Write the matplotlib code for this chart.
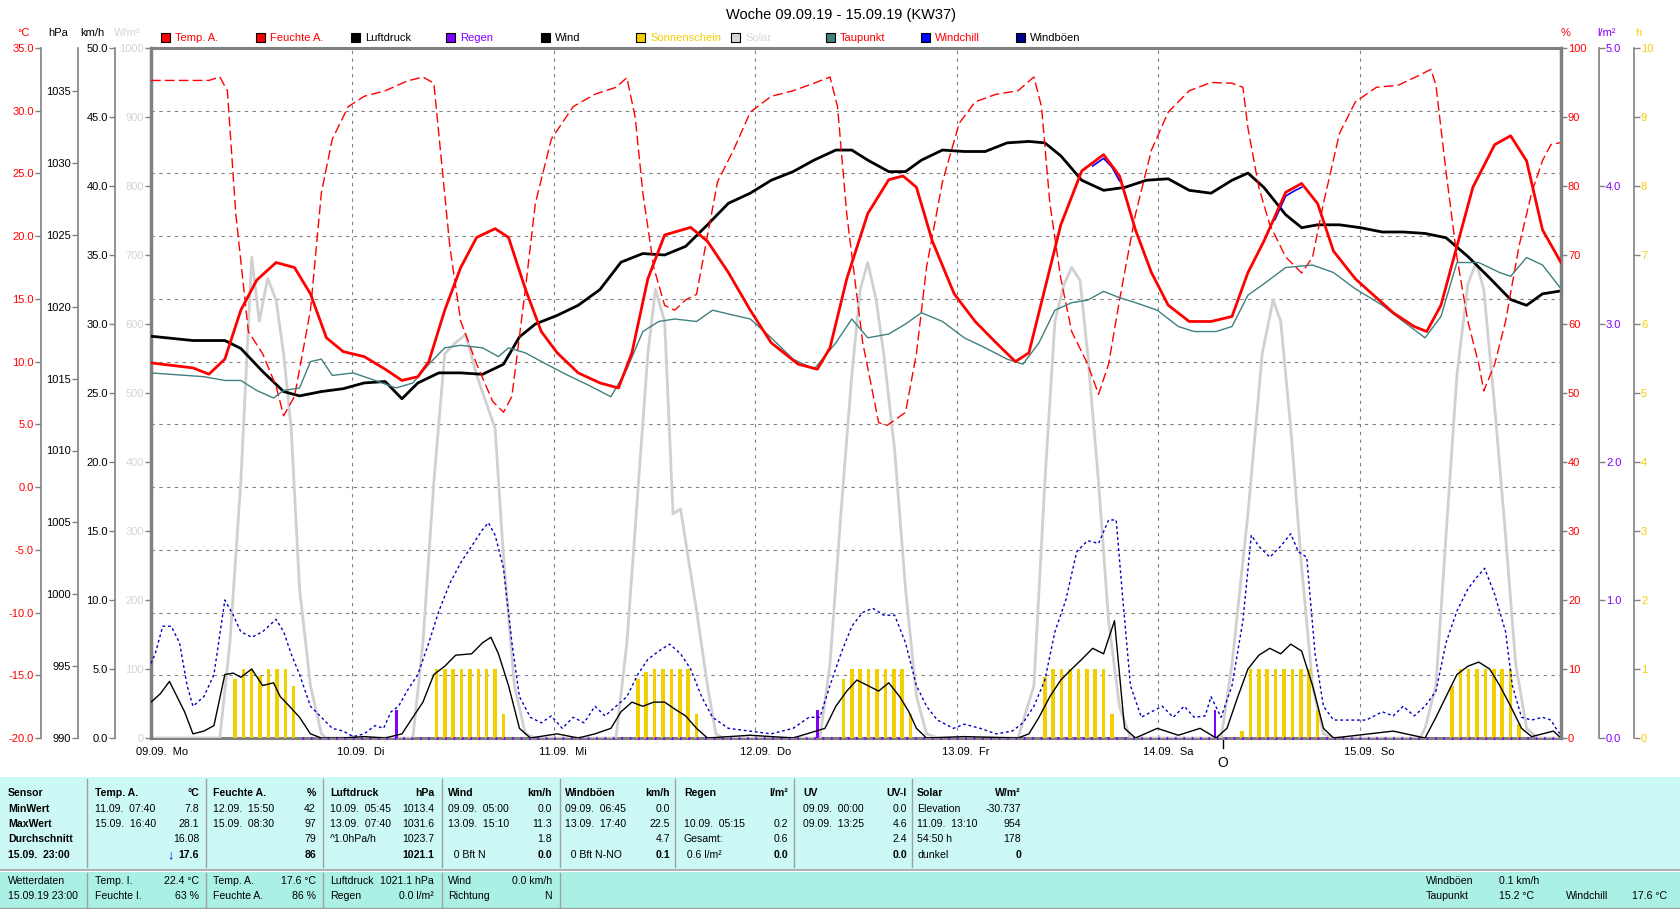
import matplotlib
matplotlib.use("Agg")
import matplotlib.pyplot as plt
from matplotlib.patches import Rectangle

plt.rcParams['font.family'] = ['Liberation Sans', 'DejaVu Sans']

# ---- data (x = hours since 09.09. 00:00) ----
day_hours = [0, 24, 48, 72, 96, 120, 144, 168]
day_labels = ['09.09.  Mo', '10.09.  Di', '11.09.  Mi', '12.09.  Do', '13.09.  Fr', '14.09.  Sa', '15.09.  So']

temp_h = [0, 5, 6.9, 8.8, 10.7, 12.6, 14.9, 17.1, 19.0, 20.9, 22.9, 25.4, 27.9, 29.9, 31.8, 33.1, 35.0, 36.9, 38.8, 41.0,
          42.6, 44.6, 46.5, 48.4, 50.9, 53.5, 55.7, 57.3, 59.2, 61.2, 64.3, 66.3, 68.8, 71.4, 73.9, 77.1, 79.4, 80.9, 82.9, 85.4,
          87.9, 89.6, 91.2, 93.1, 95.7, 98.2, 100.7, 103.0, 104.6, 106.5, 108.4, 110.9, 113.5, 115.4, 117.3, 119.2, 121.2, 123.7, 126.3, 128.8,
          130.7, 132.6, 135.2, 137.1, 139.0, 140.9, 143.5, 146.0, 148.0, 150.5, 152.0, 153.7, 155.6, 157.5, 160.1, 162.0, 163.9, 165.8, 168]
temp_v = [9.9, 9.5, 9.0, 10.2, 14.1, 16.5, 17.9, 17.5, 15.4, 11.9, 10.8, 10.4, 9.4, 8.5, 8.8, 10.0, 14.1, 17.5, 19.9, 20.6,
          19.9, 15.8, 12.4, 10.7, 9.1, 8.3, 7.9, 10.7, 16.6, 20.1, 20.7, 19.6, 17.1, 14.1, 11.5, 9.8, 9.4, 11.1, 16.6, 21.8,
          24.5, 24.8, 23.9, 19.6, 15.4, 13.2, 11.5, 10.0, 10.7, 15.8, 20.9, 25.2, 26.5, 24.8, 20.5, 17.1, 14.5, 13.2, 13.2, 13.6,
          17.1, 19.6, 23.5, 24.2, 22.6, 18.8, 16.6, 15.1, 13.9, 12.8, 12.4, 14.5, 19.2, 23.9, 27.3, 28.0, 26.0, 20.5, 17.9]

hum_h = [0, 6.9, 8.2, 9.1, 10.1, 11.6, 13.3, 14.9, 15.8, 17.1, 19.0, 20.3, 21.6, 23.5, 25.4, 27.9, 30.5, 32.4, 33.7, 34.6,
         35.6, 36.9, 38.8, 40.7, 42.0, 43.0, 44.6, 45.8, 47.7, 50.3, 52.9, 55.4, 56.7, 57.7, 58.6, 59.9, 61.2, 62.4, 63.7, 65.0,
         66.3, 67.5, 69.4, 71.4, 73.9, 76.5, 79.0, 80.9, 81.8, 82.9, 84.8, 86.7, 87.7, 89.9, 91.2, 92.4, 94.3, 96.3, 98.2, 100.7,
         103.3, 105.2, 106.1, 107.1, 108.4, 109.7, 111.6, 112.9, 114.1, 115.4, 117.3, 119.2, 121.2, 123.7, 126.3, 128.8, 130.1, 130.7, 132.0, 133.3,
         135.2, 137.1, 138.4, 139.7, 141.6, 143.5, 146.0, 148.6, 151.2, 152.5, 153.1, 154.3, 155.6, 156.9, 158.2, 158.8, 160.1, 161.4, 163.0, 164.5,
         165.8, 166.8, 168]
hum_v = [95.3, 95.3, 95.8, 93.8, 76, 58.9, 55.7, 51, 46.7, 49.5, 62, 79, 86.8, 91.5, 93, 93.8, 95.2, 95.8, 94.9, 83.7,
         71.3, 60.4, 54.2, 48.8, 47.2, 49.5, 65, 77.5, 86.8, 91.5, 93.3, 94.3, 95.7, 89.9, 79, 68.2, 62.7, 62, 63.5, 64.3,
         72.8, 80.6, 85.2, 90.7, 93, 93.8, 94.9, 95.8, 91.5, 75.9, 57.3, 45.7, 45.3, 47.2, 55.7, 68.2, 80.6, 89.1, 92.2, 93.3,
         93.8, 95.8, 91.5, 77.5, 66.6, 58.9, 54.2, 49.8, 54.2, 63.5, 75.9, 85.2, 90.7, 93.8, 95, 94.9, 94.3, 88.4, 79.8, 74.4,
         69.7, 67.4, 69.7, 77.5, 87.6, 92.2, 94.3, 94.6, 96.1, 96.9, 94.6, 82.1, 69.7, 60.4, 54.2, 50.3, 54.2, 60.4, 71.3, 79,
         83.7, 86, 86.3]

press_h = [0, 5.0, 8.8, 10.7, 13.3, 15.8, 17.7, 20.3, 22.9, 25.4, 27.9, 29.9, 31.8, 34.3, 36.9, 39.5, 42.0, 43.9, 45.8, 48.4,
           50.9, 53.5, 56.0, 58.6, 61.2, 63.7, 66.3, 68.8, 71.4, 73.9, 76.5, 79.0, 81.6, 83.5, 85.4, 87.9, 89.9, 91.8, 94.3, 96.9,
           99.4, 102.0, 104.6, 106.5, 108.4, 110.9, 113.5, 116.0, 118.6, 121.2, 123.7, 126.3, 128.8, 130.7, 132.6, 135.2, 137.1, 139.0, 141.6, 144.1,
           146.7, 149.2, 151.8, 154.3, 156.9, 159.5, 162.0, 163.9, 165.8, 168]
press_v = [1017.95, 1017.65, 1017.65, 1017.1, 1015.5, 1014.1, 1013.8, 1014.1, 1014.3, 1014.7, 1014.8, 1013.6, 1014.7, 1015.4, 1015.4, 1015.3, 1016, 1017.9, 1018.8, 1019.4,
           1020.1, 1021.2, 1023.1, 1023.7, 1023.6, 1024.2, 1025.7, 1027.2, 1027.9, 1028.8, 1029.4, 1030.2, 1030.9, 1030.9, 1030.2, 1029.4, 1029.4, 1030.2, 1030.9, 1030.8,
           1030.8, 1031.4, 1031.5, 1031.4, 1030.5, 1028.8, 1028.1, 1028.3, 1028.8, 1028.9, 1028.1, 1027.9, 1028.8, 1029.3, 1028.3, 1026.4, 1025.5, 1025.7, 1025.7, 1025.5,
           1025.2, 1025.2, 1025.1, 1024.8, 1023.5, 1022.0, 1020.5, 1020.1, 1020.9, 1021.1]

dew_h = [0, 6.3, 8.8, 10.7, 12.6, 14.6, 15.8, 17.7, 19.0, 20.3, 21.6, 24.1, 26.7, 29.2, 31.2, 33.1, 35.0, 36.9, 39.5, 41.4,
         42.6, 44.6, 47.1, 49.7, 52.2, 54.8, 56.7, 58.6, 60.5, 62.4, 65.0, 66.9, 68.8, 71.4, 73.9, 76.5, 79.0, 81.6, 83.5, 85.4,
         87.9, 89.9, 91.8, 94.3, 96.9, 99.4, 102.0, 103.9, 105.8, 107.7, 109.7, 111.6, 113.5, 115.4, 117.3, 119.9, 122.4, 124.3, 126.9, 128.8,
         130.7, 132.6, 135.2, 138.4, 140.9, 143.5, 146.7, 149.2, 151.8, 153.7, 155.6, 158.2, 160.7, 162.0, 163.9, 165.8, 168]
dew_v = [9.1, 8.8, 8.5, 8.5, 7.7, 7.1, 7.7, 7.9, 10.0, 10.2, 8.9, 9.1, 8.5, 7.9, 8.3, 9.8, 11.1, 11.3, 11.1, 10.4,
         11.1, 10.7, 9.8, 8.9, 8.1, 7.2, 9.4, 12.4, 13.2, 13.4, 13.2, 14.1, 13.8, 13.4, 11.9, 10.2, 9.4, 11.5, 13.4, 11.9,
         12.2, 13.0, 13.9, 13.2, 11.9, 11.1, 10.2, 9.8, 11.5, 14.1, 14.7, 14.9, 15.6, 15.1, 14.7, 14.1, 12.8, 12.4, 12.4, 12.8,
         15.3, 16.2, 17.5, 17.7, 17.1, 15.8, 14.5, 13.2, 11.9, 13.6, 17.9, 17.9, 17.1, 16.8, 18.3, 17.7, 15.8]

# windchill only peeks out from under the temperature line on two afternoons
chill_h = [112.2, 113.5, 114.5, 115.4, float('nan'), 133.9, 135.2, 136.2, 137.1]
chill_v = [25.6, 26.2, 25.5, 24.4, float('nan'), 21.3, 23.2, 23.6, 23.9]

solar_h = [0, 8.2, 9.4, 10.7, 12.0, 12.9, 13.9, 14.9, 15.8, 16.7, 17.7, 19.0, 20.3, 20.9,
           31.2, 32.4, 33.7, 35.0, 36.3, 37.5, 38.8, 40.1, 41.0, 42.0, 43.3, 44.6, 45.8,
           55.4, 56.7, 58.0, 59.2, 60.1, 61.2, 62.2, 63.1, 64.0, 65.0, 66.3, 67.3, 68.2,
           79.7, 80.9, 82.2, 83.5, 84.5, 85.4, 86.4, 87.3, 88.6, 89.9, 91.2, 92.4, 93.7,
           103.3, 105.2, 106.5, 107.7, 108.8, 109.7, 110.7, 111.6, 112.9, 114.1, 115.4, 116.7,
           127.5, 128.8, 130.7, 132.4, 133.7, 134.6, 135.8, 137.1, 138.4, 139.7, 140.9,
           151.2, 151.8, 153.1, 154.3, 155.6, 156.9, 157.9, 158.8, 160.1, 161.4, 162.6, 163.9, 165.2, 168]
solar_v = [0, 0, 138, 371, 697, 604, 666, 635, 557, 449, 216, 76, 6, 0,
           0, 138, 371, 557, 573, 585, 526, 480, 449, 262, 76, 6, 0,
           0, 138, 356, 557, 650, 604, 325, 332, 262, 185, 76, 6, 0,
           0, 107, 325, 526, 650, 689, 635, 557, 418, 216, 61, 6, 0,
           0, 76, 371, 604, 658, 682, 663, 557, 371, 169, 45, 0,
           0, 107, 325, 557, 635, 604, 449, 247, 76, 6, 0,
           0, 14, 76, 293, 526, 658, 689, 650, 480, 293, 107, 14, 0, 0]

wind_h = [0, 1.1, 2.2, 3.1, 4.0, 5.0, 6.3, 7.5, 8.8, 9.8, 10.7, 12.0, 13.3, 14.6, 15.4, 16.5, 17.7, 19.0, 20.3, 22.9,
          25.4, 27.9, 29.9, 31.2, 32.4, 33.7, 35.0, 36.3, 38.2, 39.5, 40.5, 41.4, 42.6, 43.9, 45.2, 48.4, 50.9, 52.9, 54.8, 56.0,
          57.3, 58.6, 59.9, 61.2, 62.4, 63.7, 65.0, 66.3, 71.4, 76.5, 80.3, 81.6, 82.9, 84.1, 85.4, 86.7, 87.9, 89.2, 90.3, 91.2,
          92.4, 96.9, 103.3, 104.6, 105.8, 107.1, 108.4, 109.7, 110.9, 112.2, 113.5, 114.8, 115.4, 116.0, 117.3, 119.9, 122.4, 125.0, 126.9, 128.2,
          129.5, 130.7, 132.0, 133.3, 134.6, 135.8, 137.1, 138.4, 139.7, 140.9, 148.0, 151.8, 153.1, 154.3, 155.6, 156.9, 158.2, 159.5, 160.7, 162.0,
          163.3, 164.5, 165.8, 167.1, 168]
wind_v = [2.6, 3.2, 4.1, 3.0, 1.9, 0.3, 0.5, 0.9, 4.6, 4.7, 4.4, 5.0, 3.8, 4.0, 3.0, 2.3, 1.5, 0.3, 0, 0,
          0.1, 0, 0.3, 1.5, 2.6, 4.6, 5.2, 6.0, 6.1, 6.9, 7.3, 6.1, 3.8, 0.7, 0, 0.3, 0, 0.3, 0.7, 1.9,
          2.6, 2.3, 2.6, 2.6, 2.1, 1.6, 0.7, 0, 0.2, 0, 0.7, 2.3, 3.4, 4.2, 3.8, 3.4, 4.0, 3.0, 1.9, 0.7,
          0, 0.1, 0, 0.3, 1.5, 3.0, 4.2, 5.0, 5.7, 6.5, 6.1, 8.5, 4.6, 0.7, 0, 0.7, 0.2, 0.7, 0, 0.7,
          3.0, 5.0, 6.0, 6.5, 6.1, 6.8, 6.3, 3.8, 0.7, 0, 0.5, 0, 1.5, 3.0, 4.6, 5.2, 5.5, 5.0, 3.8, 2.3,
          0.7, 0.1, 0.3, 0.5, 0]

gust_h = [0, 0.5, 1.4, 2.4, 3.4, 4.3, 5.0, 6.3, 7.5, 8.8, 9.8, 10.7, 12.0, 13.3, 14.9, 15.8, 16.7, 17.7, 19.0, 20.3,
          21.6, 22.9, 24.1, 25.4, 26.7, 27.7, 28.6, 29.5, 30.5, 31.8, 33.1, 34.3, 35.6, 36.9, 38.2, 39.5, 40.2, 41.0, 42.0, 43.0,
          43.9, 45.2, 46.5, 47.7, 49.0, 50.3, 51.6, 52.9, 54.1, 55.4, 56.7, 58.0, 59.2, 60.5, 61.8, 63.1, 64.3, 65.6, 66.9, 68.8,
          71.4, 73.9, 76.5, 78.4, 79.7, 80.9, 82.2, 83.5, 84.8, 86.0, 87.3, 88.6, 89.9, 91.2, 92.4, 93.7, 95.6, 96.9, 98.8, 100.7,
          102.6, 103.9, 105.2, 106.5, 107.7, 109.0, 110.3, 111.6, 112.9, 114.1, 115.0, 115.8, 116.7, 118.0, 119.2, 120.5, 121.8, 123.1, 124.3, 125.6,
          126.3, 127.5, 128.8, 130.1, 131.1, 132.0, 133.3, 134.6, 135.8, 136.7, 137.7, 138.7, 139.7, 140.9, 142.9, 144.8, 146.7, 148.0, 149.2, 150.5,
          151.8, 153.1, 154.3, 155.6, 156.9, 157.9, 158.9, 160.1, 161.4, 162.2, 163.3, 164.5, 165.8, 166.8, 167.4, 168]
gust_v = [5.4, 6.1, 8.1, 8.1, 6.9, 3.8, 2.3, 3.0, 4.6, 10.0, 8.9, 7.7, 7.3, 7.7, 8.6, 7.7, 6.1, 4.6, 2.3, 1.5,
          0.7, 0.5, 0.1, 0.3, 0.9, 0.7, 1.9, 2.3, 3.4, 4.6, 6.9, 9.2, 11.2, 12.7, 13.9, 15.1, 15.6, 14.7, 12.3, 6.9,
          3.0, 1.5, 1.1, 1.6, 0.7, 1.5, 1.1, 2.3, 1.6, 2.3, 3.0, 4.6, 5.7, 6.3, 6.8, 6.1, 5.0, 3.0, 1.5, 0.7,
          0.5, 0.3, 0.7, 1.5, 1.5, 3.8, 6.1, 8.1, 9.1, 9.4, 8.9, 8.9, 6.9, 3.8, 2.3, 1.3, 0.7, 1.0, 0.7, 0.3,
          0.5, 1.1, 2.3, 4.2, 7.7, 10.0, 13.5, 14.3, 14.1, 15.8, 15.8, 10.0, 3.8, 1.5, 1.9, 2.3, 1.5, 2.3, 1.5, 1.6,
          3.0, 1.5, 3.8, 8.5, 14.7, 13.9, 13.1, 13.9, 14.8, 13.5, 13.1, 6.1, 2.3, 1.3, 1.3, 1.3, 1.9, 1.6, 2.3, 1.6,
          2.3, 3.4, 6.9, 9.2, 10.8, 11.6, 12.3, 10.4, 7.7, 3.8, 1.5, 1.3, 1.5, 1.3, 0.7, 0.2]

sun_h = [10, 11, 12, 13, 14, 15, 16, 17,
         34, 35, 36, 37, 38, 39, 40, 41, 42,
         58, 59, 60, 61, 62, 63, 64, 65,
         82.5, 83.5, 84.5, 85.5, 86.5, 87.5, 88.5, 89.5, 90.5,
         106.5, 107.5, 108.5, 109.5, 110.5, 111.5, 112.5, 113.5, 114.5,
         130, 131, 132, 133, 134, 135, 136, 137, 138, 139,
         155, 156, 157, 158, 159, 160, 161, 162, 163]
sun_v = [0.85, 1, 1, 0.9, 1, 1, 1, 0.75,
         1, 1, 1, 1, 1, 1, 1, 1, 0.35,
         0.85, 0.95, 1, 1, 1, 1, 1, 0.35,
         0.85, 1, 1, 1, 1, 1, 1, 1, 0.35,
         0.88, 1, 1, 1, 1, 1, 1, 1, 0.35,
         0.1, 1, 1, 1, 1, 1, 1, 1, 1, 0.4,
         0.75, 1, 1, 1, 1, 1, 1, 1, 0.2]

rain_h = [29.25, 79.4, 126.8]
rain_v = [0.2, 0.2, 0.2]
rain_zero_h = [18, 167.5]
rain_zero_v = [0, 0]

marker_h = 127.7

# ---- figure / axes geometry (pixels) ----
W, H = 1680, 909
L, R, T, B = 151, 1561, 48, 738
pos = [L / W, 1 - B / H, (R - L) / W, (B - T) / H]
GRAY = '#808080'
FS = 7.6  # table text size

fig = plt.figure(figsize=(W / 100, H / 100), dpi=100)
fig.patch.set_facecolor('white')


def off(px):
    return (px - L) / (R - L)


def side_axis(name, lim, side, x_px, ticks, labels, color, lw=1.2, base=None):
    a = base if base is not None else fig.add_axes(pos, sharex=ax, label=name)
    if base is None:
        a.patch.set_visible(False)
    a.set_ylim(lim)
    for s in ['left', 'right', 'top', 'bottom']:
        a.spines[s].set_visible(False)
    if side:
        sp = a.spines[side]
        sp.set_visible(True)
        sp.set_position(('axes', off(x_px)))
        sp.set_color(GRAY)
        sp.set_linewidth(lw)
        a.yaxis.set_ticks_position(side)
        a.set_yticks(ticks, labels)
        a.tick_params(axis='y', direction='out', length=4, width=1, color=GRAY,
                      labelcolor=color, labelsize=8, pad=1)
    else:
        a.set_yticks([])
    a.tick_params(axis='x', bottom=False, labelbottom=False)
    return a


# base axes: grid + °C scale
ax = fig.add_axes(pos)
ax.set_xlim(0, 168)
side_axis('temp_scale', (-20, 35), 'left', 40.7, list(range(-20, 36, 5)),
          ['%.1f' % v for v in range(-20, 36, 5)], '#ff0000', base=ax)
ax.set_xticks(day_hours)
ax.tick_params(axis='x', length=0, labelbottom=False)
ax.grid(True, linestyle=(0, (3, 4)), color=GRAY, linewidth=0.8)
for s in ['top', 'bottom']:
    ax.spines[s].set_visible(True)
    ax.spines[s].set_color(GRAY)
    ax.spines[s].set_linewidth(2.2)

# solar (W/m²) axis forms the left frame
ax_sol = side_axis('solar', (0, 1000), 'left', L, list(range(0, 1001, 100)),
                   [str(v) for v in range(0, 1001, 100)], '#d4d4d4', lw=2.5)
ax_sol.plot(solar_h, solar_v, color='#d0d0d0', lw=2)

ax_sun = side_axis('sun', (0, 10), 'right', 1634, list(range(0, 11)),
                   [str(v) for v in range(0, 11)], '#f2cf00')
ax_sun.bar(sun_h, sun_v, width=0.42, color='#f2cf00')

ax_rain = side_axis('rain', (0, 5), 'right', 1599, [0, 1, 2, 3, 4, 5],
                    ['0.0', '1.0', '2.0', '3.0', '4.0', '5.0'], '#8000ff')
ax_rain.bar(rain_h, rain_v, width=0.3, color='#8000ff')
ax_rain.plot(rain_zero_h, rain_zero_v, color='#8000ff', lw=2, linestyle=(0, (0.6, 2.42)), clip_on=False)

ax_wind = side_axis('wind', (0, 50), 'left', 115, list(range(0, 51, 5)),
                    ['%.1f' % v for v in range(0, 51, 5)], '#000000')
ax_wind.plot(gust_h, gust_v, color='#0000c0', lw=1, linestyle=(0, (2, 2)))
ax_wind.plot(wind_h, wind_v, color='#000000', lw=1)

ax_p = side_axis('press', (990, 1038), 'left', 77.5, list(range(990, 1036, 5)),
                 [str(v) for v in range(990, 1036, 5)], '#000000')
ax_p.plot(press_h, press_v, color='#000000', lw=2)

ax_hum = side_axis('hum', (0, 100), 'right', R, list(range(0, 101, 10)),
                   [str(v) for v in range(0, 101, 10)], '#ff0000', lw=2.5)
ax_hum.plot(hum_h, hum_v, color='#ff0000', lw=1, linestyle=(0, (7, 3)))

ax_t = side_axis('temp', (-20, 35), None, 0, [], [], '#ff0000')
ax_t.plot(dew_h, dew_v, color='#408080', lw=1, zorder=2)
ax_t.plot(chill_h, chill_v, color='#0000ff', lw=1.2, zorder=3)
ax_t.plot(temp_h, temp_v, color='#ff0000', lw=2, zorder=4)

# day labels under the x axis
xt = ax.get_xaxis_transform()
for d, lab in zip(day_hours, day_labels):
    ax.text(d - 1.8, -(752 - B) / (B - T), lab, transform=xt, ha='left', va='center', fontsize=8)
ax.plot([marker_h, marker_h], [0, -10 / (B - T)], transform=xt, color='black', lw=1, clip_on=False)
ax.text(marker_h, -(763 - B) / (B - T), 'O', transform=xt, ha='center', va='center', fontsize=10)

# ---- overlay in pixel coordinates: title, units, legend, table ----
ov = fig.add_axes([0, 0, 1, 1], label='overlay')
ov.set_xlim(0, W)
ov.set_ylim(H, 0)
ov.axis('off')
ov.patch.set_visible(False)

ov.text(841, 15, 'Woche 09.09.19 - 15.09.19 (KW37)', ha='center', va='center', fontsize=10.5)

unit_txt = ['°C', 'hPa', 'km/h', 'W/m²', '%', 'l/m²', 'h']
unit_x = [24, 58, 92, 127, 1566, 1607, 1638]
unit_col = ['#ff0000', '#000000', '#000000', '#d4d4d4', '#ff0000', '#8000ff', '#f2cf00']
for t, x, c in zip(unit_txt, unit_x, unit_col):
    ov.text(x, 33, t, ha='center', va='center', fontsize=8, color=c)

leg_names = ['Temp. A.', 'Feuchte A.', 'Luftdruck', 'Regen', 'Wind', 'Sonnenschein', 'Solar', 'Taupunkt', 'Windchill', 'Windböen']
leg_box = ['#ff0000', '#ff0000', '#000000', '#8000ff', '#000000', '#f2cf00', '#d8d8d8', '#408080', '#0000ff', '#000090']
leg_txt = ['#ff0000', '#ff0000', '#000000', '#8000ff', '#000000', '#f2cf00', '#d8d8d8', '#ff0000', '#ff0000', '#000000']
for i, (n, bc, tc) in enumerate(zip(leg_names, leg_box, leg_txt)):
    x0 = 161 + i * 95
    ov.add_patch(Rectangle((x0, 33), 9, 9, facecolor=bc, edgecolor='black', lw=0.8))
    ov.text(x0 + 14, 38, n, ha='left', va='center', fontsize=8, color=tc)

# table panels
ov.add_patch(Rectangle((0, 777), W, 92, facecolor='#ccf9f6', edgecolor='none'))
ov.add_patch(Rectangle((0, 872), W, 37, facecolor='#aaf0e4', edgecolor='none'))
ov.plot([0, W], [870, 870], color='#a0a0a0', lw=1.2)
ov.plot([0, W], [908, 908], color='#a0a0a0', lw=1)
for x in [87, 206, 323, 442, 560, 675, 794, 912]:
    ov.plot([x, x], [779, 867], color='#a0a0a0', lw=1)
for x in [87, 206, 323, 442, 560]:
    ov.plot([x, x], [873, 907], color='#a0a0a0', lw=1)

row_y = [793, 808.5, 824, 839.5, 855]
first_col = ['Sensor', 'MinWert', 'MaxWert', 'Durchschnitt', '15.09.  23:00']
for y, t in zip(row_y, first_col):
    ov.text(8, y, t, ha='left', va='center', fontsize=FS, fontweight='bold')

tab_cols = [
    (95, 199, 'Temp. A.', '°C', ['11.09.  07:40', '15.09.  16:40', '', ''], ['7.8', '28.1', '16.08', '17.6']),
    (213, 316, 'Feuchte A.', '%', ['12.09.  15:50', '15.09.  08:30', '', ''], ['42', '97', '79', '86']),
    (330, 434, 'Luftdruck', 'hPa', ['10.09.  05:45', '13.09.  07:40', '^1.0hPa/h', ''], ['1013.4', '1031.6', '1023.7', '1021.1']),
    (448, 552, 'Wind', 'km/h', ['09.09.  05:00', '13.09.  15:10', '', '  0 Bft N'], ['0.0', '11.3', '1.8', '0.0']),
    (565, 670, 'Windböen', 'km/h', ['09.09.  06:45', '13.09.  17:40', '', '  0 Bft N-NO'], ['0.0', '22.5', '4.7', '0.1']),
    (684, 788, 'Regen', 'l/m²', ['', '10.09.  05:15', 'Gesamt:', ' 0.6 l/m²'], ['', '0.2', '0.6', '0.0']),
    (803, 907, 'UV', 'UV-I', ['09.09.  00:00', '09.09.  13:25', '', ''], ['0.0', '4.6', '2.4', '0.0']),
    (917, 1021, 'Solar', 'W/m²', ['Elevation', '11.09.  13:10', '54:50 h', 'dunkel'], ['-30.737', '954', '178', '0']),
]
for xl, xr, head, unit, lefts, rights in tab_cols:
    ov.text(xl, row_y[0], head, ha='left', va='center', fontsize=FS, fontweight='bold')
    ov.text(xr, row_y[0], unit, ha='right', va='center', fontsize=FS, fontweight='bold')
    for k in range(4):
        ov.text(xl, row_y[k + 1], lefts[k], ha='left', va='center', fontsize=FS)
        ov.text(xr, row_y[k + 1], rights[k], ha='right', va='center', fontsize=FS,
                fontweight='bold' if k == 3 else 'normal')
ov.text(174, row_y[4], '↓', ha='right', va='center', fontsize=9, color='#0000ff', fontweight='bold')

bot_y = [881, 896]
bot_cols = [
    (8, None, ['Wetterdaten', '15.09.19 23:00'], ['', '']),
    (95, 199, ['Temp. I.', 'Feuchte I.'], ['22.4 °C', '63 %']),
    (213, 316, ['Temp. A.', 'Feuchte A.'], ['17.6 °C', '86 %']),
    (330, 434, ['Luftdruck', 'Regen'], ['1021.1 hPa', '0.0 l/m²']),
    (448, 552, ['Wind', 'Richtung'], ['0.0 km/h', 'N']),
]
for xl, xr, lefts, rights in bot_cols:
    for k in range(2):
        ov.text(xl, bot_y[k], lefts[k], ha='left', va='center', fontsize=FS)
        if xr:
            ov.text(xr, bot_y[k], rights[k], ha='right', va='center', fontsize=FS)
right_items = [(1426, 0, 'Windböen'), (1499, 0, '0.1 km/h'), (1426, 1, 'Taupunkt'),
               (1499, 1, '15.2 °C'), (1566, 1, 'Windchill'), (1632, 1, '17.6 °C')]
for x, k, t in right_items:
    ov.text(x, bot_y[k], t, ha='left', va='center', fontsize=FS)

fig.savefig('out.png', dpi=100)
